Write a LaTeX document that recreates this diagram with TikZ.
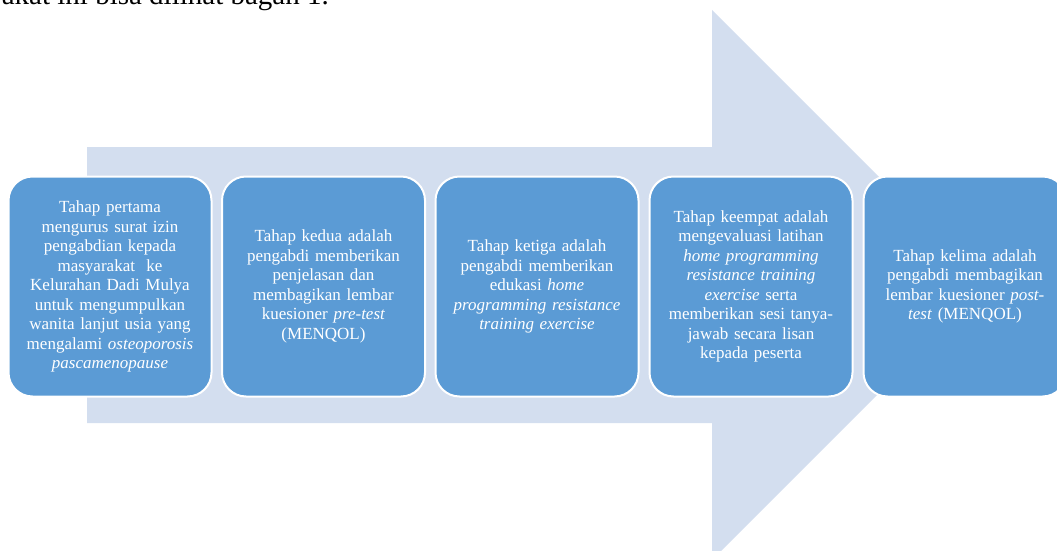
\documentclass[tikz,border=0pt]{standalone}
\usepackage{fontspec}
\setmainfont{Liberation Serif}
\definecolor{arrowfill}{HTML}{D3DEEF}
\definecolor{boxfill}{HTML}{5B9BD5}
\tikzset{
  stepbox/.style={draw=white, line width=2pt, fill=boxfill, rounded corners=24pt,
    minimum width=203pt, minimum height=220pt, text width=200pt, align=center,
    text=white, inner sep=0pt, font=\fontsize{17}{19.5}\selectfont},
}
\begin{document}
\begin{tikzpicture}[x=1pt,y=-1pt]
\useasboundingbox (0,0) rectangle (1057,551);
\clip (0,0) rectangle (1057,551);
\node[anchor=base east, font=\fontsize{29}{31}\selectfont, inner sep=0pt] (cap) at (329,5) {masyarakat ini bisa dilihat bagan 1.};
\fill[arrowfill] (87,147) -- (712,147) -- (712,10) -- (987,285) -- (712,560) -- (712,423) -- (87,423) -- cycle;
\node[stepbox] (s1) at (110,286.5) {Tahap pertama\\ mengurus surat izin\\ pengabdian kepada\\ masyarakat\ \ ke\\ Kelurahan Dadi Mulya\\ untuk mengumpulkan\\ wanita lanjut usia yang\\ mengalami \textit{osteoporosis}\\ \textit{pascamenopause}};
\node[stepbox] (s2) at (323.5,286.5) {Tahap kedua adalah\\ pengabdi memberikan\\ penjelasan dan\\ membagikan lembar\\ kuesioner \textit{pre-test}\\ (MENQOL)};
\node[stepbox] (s3) at (537,286.5) {Tahap ketiga adalah\\ pengabdi memberikan\\ edukasi \textit{home}\\ \textit{programming resistance}\\ \textit{training exercise}};
\node[stepbox] (s4) at (751,286.5) {Tahap keempat adalah\\ mengevaluasi latihan\\ \textit{home programming}\\ \textit{resistance training}\\ \textit{exercise} serta\\ memberikan sesi tanya-\\ jawab secara lisan\\ kepada peserta};
\node[stepbox] (s5) at (965,286.5) {Tahap kelima adalah\\ pengabdi membagikan\\ lembar kuesioner \textit{post-}\\ \textit{test} (MENQOL)};
\end{tikzpicture}
\end{document}
